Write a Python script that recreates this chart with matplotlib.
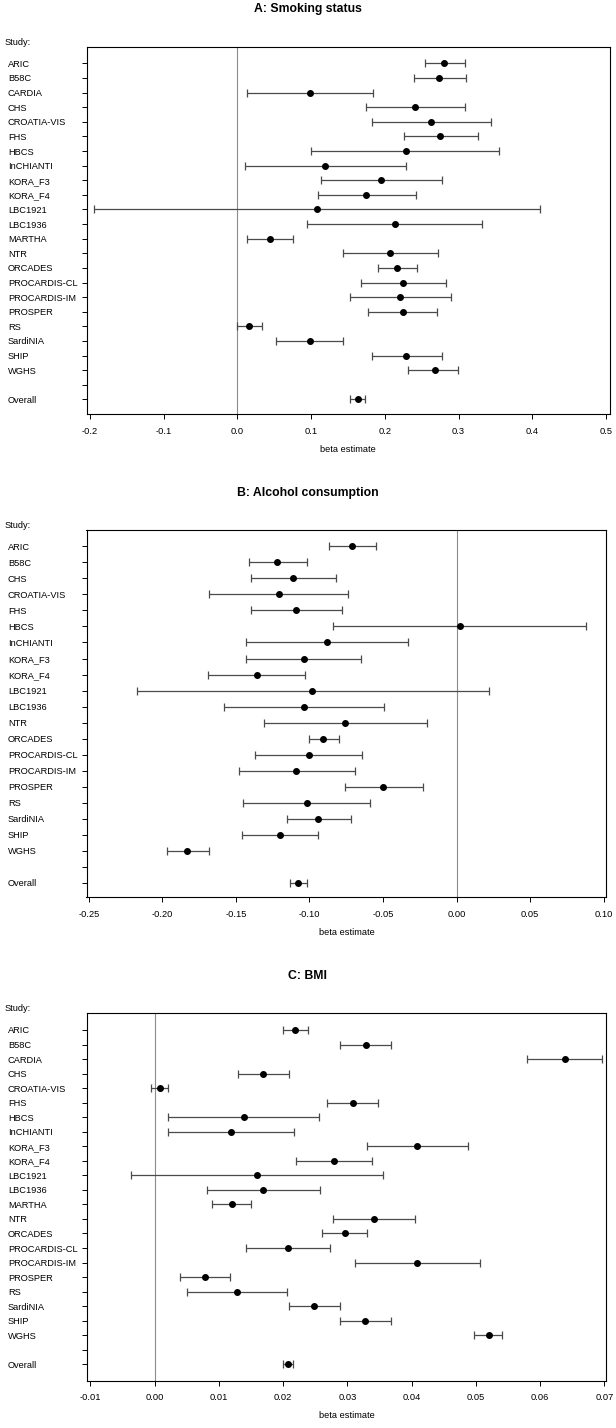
import matplotlib
matplotlib.use("Agg")
import matplotlib.pyplot as plt
import numpy as np

plt.rcParams['font.family'] = ['Liberation Sans', 'DejaVu Sans']
plt.rcParams['axes.unicode_minus'] = False

# ---- data ----
studies_a = ["ARIC", "B58C", "CARDIA", "CHS", "CROATIA-VIS", "FHS", "HBCS", "InCHIANTI",
             "KORA_F3", "KORA_F4", "LBC1921", "LBC1936", "MARTHA", "NTR", "ORCADES",
             "PROCARDIS-CL", "PROCARDIS-IM", "PROSPER", "RS", "SardiNIA", "SHIP", "WGHS"]
beta_a = [0.280, 0.274, 0.099, 0.241, 0.263, 0.275, 0.228, 0.119, 0.195, 0.175, 0.108,
          0.214, 0.044, 0.207, 0.217, 0.225, 0.221, 0.224, 0.016, 0.098, 0.229, 0.268]
lo_a = [0.254, 0.239, 0.013, 0.175, 0.182, 0.226, 0.100, 0.011, 0.114, 0.109, -0.194,
        0.095, 0.013, 0.143, 0.191, 0.168, 0.153, 0.177, -0.001, 0.053, 0.182, 0.231]
hi_a = [0.308, 0.310, 0.184, 0.309, 0.344, 0.326, 0.355, 0.228, 0.278, 0.242, 0.410,
        0.332, 0.076, 0.272, 0.244, 0.283, 0.290, 0.271, 0.034, 0.143, 0.277, 0.299]
overall_a = [0.163, 0.153, 0.173]   # beta, lo, hi

studies_b = ["ARIC", "B58C", "CHS", "CROATIA-VIS", "FHS", "HBCS", "InCHIANTI", "KORA_F3",
             "KORA_F4", "LBC1921", "LBC1936", "NTR", "ORCADES", "PROCARDIS-CL",
             "PROCARDIS-IM", "PROSPER", "RS", "SardiNIA", "SHIP", "WGHS"]
beta_b = [-0.071, -0.122, -0.111, -0.121, -0.109, 0.002, -0.088, -0.104, -0.136, -0.098,
          -0.104, -0.076, -0.091, -0.100, -0.109, -0.050, -0.102, -0.094, -0.120, -0.183]
lo_b = [-0.087, -0.141, -0.140, -0.168, -0.140, -0.084, -0.143, -0.143, -0.169, -0.217,
        -0.158, -0.131, -0.100, -0.137, -0.148, -0.076, -0.145, -0.115, -0.146, -0.197]
hi_b = [-0.055, -0.102, -0.082, -0.074, -0.078, 0.088, -0.033, -0.065, -0.103, 0.022,
        -0.049, -0.020, -0.080, -0.064, -0.069, -0.023, -0.059, -0.072, -0.094, -0.168]
overall_b = [-0.108, -0.113, -0.102]

studies_c = studies_a
beta_c = [0.0219, 0.0329, 0.0639, 0.0169, 0.0008, 0.0308, 0.0139, 0.0119, 0.0409, 0.0279,
          0.0159, 0.0169, 0.0120, 0.0341, 0.0296, 0.0208, 0.0408, 0.0078, 0.0128, 0.0248,
          0.0328, 0.0521]
lo_c = [0.0200, 0.0289, 0.0580, 0.0130, -0.0005, 0.0269, 0.0021, 0.0021, 0.0330, 0.0220,
        -0.0036, 0.0081, 0.0090, 0.0278, 0.0261, 0.0143, 0.0312, 0.0040, 0.0051, 0.0209,
        0.0289, 0.0497]
hi_c = [0.0239, 0.0368, 0.0697, 0.0209, 0.0021, 0.0347, 0.0256, 0.0217, 0.0487, 0.0338,
        0.0355, 0.0258, 0.0150, 0.0406, 0.0331, 0.0273, 0.0506, 0.0117, 0.0206, 0.0289,
        0.0368, 0.0541]
overall_c = [0.0208, 0.0200, 0.0216]

ticks_a = [-0.2, -0.1, 0.0, 0.1, 0.2, 0.3, 0.4, 0.5]
ticks_b = [-0.25, -0.20, -0.15, -0.10, -0.05, 0.00, 0.05, 0.10]
ticks_c = [-0.01, 0.00, 0.01, 0.02, 0.03, 0.04, 0.05, 0.06, 0.07]

W, H = 616.0, 1428.0
FS = 6.7
BAR = '#4a4a4a'


def forest(fig, box, title, title_y, studies, beta, lo, hi, overall, xlim, xticks, fmt, ylim):
    # box = (left, top, right, bottom) in pixels
    l, t, r, b = box
    ax = fig.add_axes([l / W, 1 - b / H, (r - l) / W, (b - t) / H])
    n = len(studies)
    rows = np.arange(n)
    overall_row = n + 1
    beta = np.array(beta)
    lo = np.array(lo)
    hi = np.array(hi)

    ax.axvline(0, color='#8c8c8c', lw=0.8, zorder=1)
    ax.errorbar(beta, rows, xerr=[beta - lo, hi - beta], fmt='o', color='black',
                ms=4.0, ecolor=BAR, elinewidth=0.9, capsize=3.2, capthick=0.9, zorder=3)
    ax.errorbar([overall[0]], [overall_row], xerr=[[overall[0] - overall[1]], [overall[2] - overall[0]]],
                fmt='o', color='black', ms=4.0, ecolor=BAR, elinewidth=0.9, capsize=3.2,
                capthick=0.9, zorder=3)

    ax.set_xlim(*xlim)
    ax.set_ylim(*ylim)
    ax.set_xticks(xticks)
    ax.set_xticklabels([fmt % v for v in xticks], fontsize=FS)
    ax.set_yticks(list(rows) + [n, overall_row])
    ax.set_yticklabels(studies + ['', 'Overall'], fontsize=FS, ha='left')
    ax.tick_params(axis='y', length=3.6, width=0.7, pad=53)
    ax.tick_params(axis='x', length=3.6, width=0.7, pad=5.5)
    for s in ax.spines.values():
        s.set_linewidth(0.8)
    ax.set_xlabel('beta estimate', fontsize=FS, labelpad=6.5)

    fig.text(0.5, 1 - title_y / H, title, ha='center', va='center',
             fontsize=8.8, fontweight='bold')
    fig.text(4.7 / W, 1 - (t - 4) / H, 'Study:', ha='left', va='center', fontsize=FS)
    return ax


def main():
    fig = plt.figure(figsize=(W / 100, H / 100), dpi=100)

    forest(fig, (86.5, 46.7, 609.8, 414.0), 'A: Smoking status', 9.3,
           studies_a, beta_a, lo_a, hi_a, overall_a,
           (-0.2046, 0.505), ticks_a, '%.1f', (24.0, -1.14))

    forest(fig, (86.5, 530.0, 606.3, 897.3), 'B: Alcohol consumption', 493.3,
           studies_b, beta_b, lo_b, hi_b, overall_b,
           (-0.2516, 0.1018), ticks_b, '%.2f', (21.9, -1.02))

    forest(fig, (86.5, 1012.7, 606.3, 1380.7), 'C: BMI', 976.0,
           studies_c, beta_c, lo_c, hi_c, overall_c,
           (-0.0106, 0.0703), ticks_c, '%.2f', (24.13, -1.19))

    fig.savefig('out.png', dpi=100)
    plt.close(fig)


if __name__ == '__main__':
    main()
